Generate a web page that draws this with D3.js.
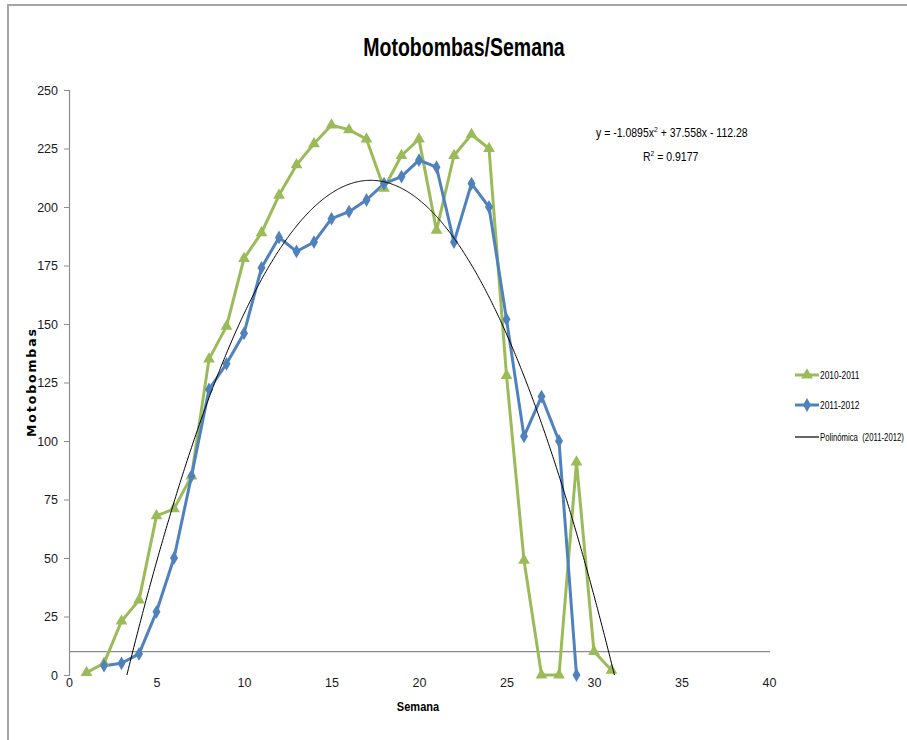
<!DOCTYPE html>
<html><head><meta charset="utf-8">
<script src="https://cdn.jsdelivr.net/npm/d3@7"></script>
<style>body{margin:0;background:#fff;} text{font-family:"Liberation Sans",Arial,sans-serif;}</style>
</head><body><svg id="c" width="907" height="740"></svg>
<script>
const weeks2010 = [1,2,3,4,5,6,7,8,9,10,11,12,13,14,15,16,17,18,19,20,21,22,23,24,25,26,27,28,29,30,31];
const values2010 = [1,5,23,32,68,71,85,135,149,178,189,205,218,227,235,233,229,208,222,229,190,222,231,225,128,49,0,0,91,10,2];
const weeks2011 = [2,3,4,5,6,7,8,9,10,11,12,13,14,15,16,17,18,19,20,21,22,23,24,25,26,27,28,29];
const values2011 = [4,5,9,27,50,85,122,133,146,174,187,181,185,195,198,203,210,213,220,217,185,210,200,152,102,119,100,0];
const trendCoef = [-1.0895, 37.558, -112.28];
const xTicks = [0,5,10,15,20,25,30,35,40];
const yTicks = [0,25,50,75,100,125,150,175,200,225,250];
const crossY = 10;
const seriesNames = ["2010-2011","2011-2012","Polinómica  (2011-2012)"];

const svg = d3.select("#c");
const W=907,H=740;
svg.append("rect").attr("x",8).attr("y",5).attr("width",W+10).attr("height",H+10)
  .attr("fill","none").attr("stroke","#a6a6a6").attr("stroke-width",2);

const x = d3.scaleLinear().domain([0,40]).range([69,769]);
const y = d3.scaleLinear().domain([0,250]).range([675,90]);

function ctext(parent, tx, ty, sx, size, anchor){
  return parent.append("text").attr("transform",`translate(${tx},${ty}) scale(${sx},1)`)
    .attr("text-anchor",anchor||"start").attr("font-size",size).attr("fill","#000");
}

// title
ctext(svg,464,56,0.78,25,"middle").attr("font-weight","bold").text("Motobombas/Semana");

// y axis
const ya = svg.append("g").attr("transform","translate(69,0)").call(d3.axisLeft(y).tickValues(yTicks).tickSize(5).tickPadding(6).tickFormat(d3.format("d")));
ya.select(".domain").attr("stroke","#8c8c8c").attr("stroke-width",1.2);
ya.selectAll(".tick line").attr("stroke","#8c8c8c");
ya.selectAll("text").attr("font-size",12.5).attr("fill","#1a1a1a").style("font-family","'Liberation Sans',Arial,sans-serif");

// x axis labels at bottom; axis line drawn at crossY
const xa = svg.append("g").attr("transform","translate(0,675)").call(d3.axisBottom(x).tickValues(xTicks).tickSize(0).tickPadding(3).tickFormat(d3.format("d")));
xa.select(".domain").remove();
xa.selectAll("text").attr("font-size",12.5).attr("fill","#1a1a1a").style("font-family","'Liberation Sans',Arial,sans-serif");
svg.append("line").attr("x1",x(0)).attr("x2",x(40)+1).attr("y1",y(crossY)).attr("y2",y(crossY))
  .attr("stroke","#8c8c8c").attr("stroke-width",1.3);

// axis titles
ctext(svg,418,711,0.85,13,"middle").attr("font-weight","bold").text("Semana");
svg.append("text").attr("transform","translate(36,383) rotate(-90)").attr("text-anchor","middle")
  .attr("font-size",12.5).attr("font-weight","bold").attr("textLength",108).attr("lengthAdjust","spacing")
  .style("font-family","'DejaVu Sans',Arial,sans-serif").text("Motobombas");

svg.append("clipPath").attr("id","pc").append("rect").attr("x",69).attr("y",90).attr("width",700).attr("height",585);

const green="#9BBB59", blue="#4F81BD";
const line = d3.line().x(d=>x(d[0])).y(d=>y(d[1]));
const d2010 = weeks2010.map((w,i)=>[w,values2010[i]]);
const d2011 = weeks2011.map((w,i)=>[w,values2011[i]]);

svg.append("path").datum(d2010).attr("d",line).attr("fill","none").attr("stroke",green).attr("stroke-width",3).attr("stroke-linejoin","round");
svg.append("path").datum(d2011).attr("d",line).attr("fill","none").attr("stroke",blue).attr("stroke-width",3).attr("stroke-linejoin","round");

const tri = d3.symbol().type(d3.symbolTriangle).size(60);
const dia = d3.symbol().type(d3.symbolDiamond).size(55);
svg.append("g").selectAll("path").data(d2010).join("path").attr("d",tri)
  .attr("transform",d=>`translate(${x(d[0])},${y(d[1])})`).attr("fill",green);
svg.append("g").selectAll("path").data(d2011).join("path").attr("d",dia)
  .attr("transform",d=>`translate(${x(d[0])},${y(d[1])})`).attr("fill",blue);

// trend line (clipped to plot area)
const trendX = d3.range(1,32.01,0.05);
const trend = trendX.map(t=>[t, trendCoef[0]*t*t + trendCoef[1]*t + trendCoef[2]]).filter(d=>d[1]>=-1.5);
svg.append("path").datum(trend).attr("d",line).attr("fill","none").attr("stroke","#000").attr("stroke-width",1).attr("clip-path","url(#pc)");

// equation
const eq = ctext(svg,596,137,0.84,12.5);
eq.append("tspan").text("y = -1.0895x");
eq.append("tspan").attr("dy",-5).attr("font-size",8).text("2");
eq.append("tspan").attr("dy",5).text(" + 37.558x - 112.28");
const r2 = ctext(svg,643,161,0.84,12.5);
r2.append("tspan").text("R");
r2.append("tspan").attr("dy",-5).attr("font-size",8).text("2");
r2.append("tspan").attr("dy",5).text(" = 0.9177");

// legend
const lg = svg.append("g");
const items=[{c:green,s:tri,y:375,sx:0.8},{c:blue,s:dia,y:405,sx:0.8},{c:"#000",s:null,y:437,sx:0.74}];
items.forEach((it,i)=>{
  lg.append("line").attr("x1",795).attr("x2",819).attr("y1",it.y).attr("y2",it.y).attr("stroke",it.c).attr("stroke-width",it.s?3:1.2);
  if(it.s) lg.append("path").attr("d",it.s).attr("transform",`translate(807,${it.y})`).attr("fill",it.c);
  ctext(lg,820,it.y+4,it.sx,10.5).attr("xml:space","preserve").text(seriesNames[i]);
});
</script></body></html>
